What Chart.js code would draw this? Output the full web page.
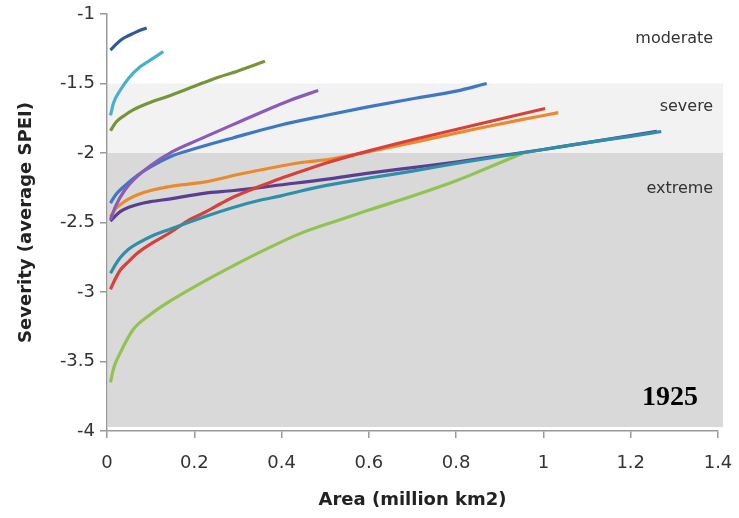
<!DOCTYPE html>
<html lang="en">
<head>
<meta charset="UTF-8">
<title>Severity vs Area 1925</title>
<script src="https://cdn.jsdelivr.net/npm/chart.js"></script>
<style>
    body { margin: 0; background: #fff; }
    #wrap { width: 739px; height: 518px; }
</style>
</head>
<body>
<div id="wrap"><canvas id="chart" width="739" height="518"></canvas></div>
<script>
// tick labels
const xTicks = ['0', '0.2', '0.4', '0.6', '0.8', '1', '1.2', '1.4'];
const yTicks = ['-4', '-3.5', '-3', '-2.5', '-2', '-1.5', '-1'];

// curves: [area, severity]
const navyCurve = [[0.008,-1.26],[0.02,-1.22],[0.035,-1.18],[0.05,-1.155],[0.07,-1.125],[0.091,-1.10]];
const cyanCurve = [[0.008,-1.73],[0.015,-1.64],[0.03,-1.55],[0.05,-1.46],[0.076,-1.38],[0.1,-1.33],[0.129,-1.27]];
const oliveCurve = [[0.008,-1.84],[0.02,-1.78],[0.04,-1.73],[0.06,-1.69],[0.1,-1.635],[0.137,-1.595],[0.2,-1.52],[0.25,-1.46],[0.3,-1.41],[0.362,-1.34]];
const purpleCurve = [[0.008,-2.48],[0.02,-2.38],[0.04,-2.27],[0.062,-2.19],[0.1,-2.09],[0.15,-1.99],[0.213,-1.90],[0.3,-1.78],[0.366,-1.69],[0.42,-1.62],[0.484,-1.55]];
const blueCurve = [[0.008,-2.36],[0.02,-2.30],[0.039,-2.24],[0.07,-2.16],[0.1,-2.10],[0.15,-2.02],[0.2,-1.97],[0.29,-1.89],[0.396,-1.80],[0.5,-1.73],[0.595,-1.67],[0.7,-1.61],[0.8,-1.555],[0.87,-1.50]];
const redCurve = [[0.008,-2.98],[0.02,-2.90],[0.031,-2.84],[0.05,-2.78],[0.07,-2.72],[0.108,-2.64],[0.146,-2.57],[0.184,-2.49],[0.222,-2.43],[0.26,-2.365],[0.291,-2.315],[0.35,-2.24],[0.396,-2.185],[0.442,-2.135],[0.51,-2.065],[0.6,-1.985],[0.7,-1.905],[0.855,-1.79],[1.004,-1.68]];
const orangeCurve = [[0.008,-2.46],[0.02,-2.40],[0.031,-2.37],[0.05,-2.33],[0.07,-2.30],[0.1,-2.27],[0.146,-2.24],[0.222,-2.21],[0.3,-2.155],[0.396,-2.095],[0.442,-2.07],[0.51,-2.045],[0.6,-1.99],[0.7,-1.925],[0.855,-1.82],[0.95,-1.76],[1.034,-1.71]];
const indigoCurve = [[0.008,-2.49],[0.02,-2.45],[0.031,-2.42],[0.05,-2.39],[0.07,-2.37],[0.1,-2.35],[0.146,-2.33],[0.222,-2.29],[0.291,-2.27],[0.396,-2.23],[0.5,-2.19],[0.6,-2.145],[0.7,-2.105],[0.8,-2.065],[0.9,-2.02],[1.0,-1.975],[1.1,-1.925],[1.2,-1.875],[1.26,-1.845]];
const tealCurve = [[0.008,-2.865],[0.02,-2.80],[0.031,-2.75],[0.05,-2.69],[0.07,-2.65],[0.108,-2.59],[0.138,-2.555],[0.222,-2.46],[0.291,-2.39],[0.35,-2.34],[0.396,-2.31],[0.442,-2.275],[0.5,-2.235],[0.6,-2.18],[0.7,-2.13],[0.8,-2.075],[0.9,-2.025],[1.0,-1.975],[1.1,-1.925],[1.2,-1.88],[1.27,-1.845]];
const limeCurve = [[0.008,-3.65],[0.015,-3.55],[0.03,-3.44],[0.06,-3.27],[0.1,-3.16],[0.137,-3.08],[0.213,-2.94],[0.29,-2.81],[0.366,-2.69],[0.442,-2.58],[0.534,-2.48],[0.6,-2.41],[0.7,-2.31],[0.8,-2.20],[0.855,-2.13],[0.954,-2.00]];

// severity classes (band limits on the y axis)
const bands = [
    { label: 'moderate', from: -1.5, to: -1 },
    { label: 'severe', from: -2, to: -1.5 },
    { label: 'extreme', from: -4, to: -2 }
];

const curves = [
    { data: navyCurve, color: '#2f5a93' },
    { data: cyanCurve, color: '#46b1cf' },
    { data: oliveCurve, color: '#76953a' },
    { data: purpleCurve, color: '#8a5cb8' },
    { data: blueCurve, color: '#3f78c2' },
    { data: tealCurve, color: '#2f8fa8' },
    { data: redCurve, color: '#d8413a' },
    { data: orangeCurve, color: '#ea8a2e' },
    { data: indigoCurve, color: '#5a3e91' },
    { data: limeCurve, color: '#92c350' }
];

const bandPlugin = {
    id: 'bands',
    beforeDatasetsDraw(chart) {
        const { ctx, chartArea, scales: { x, y } } = chart;
        const left = x.getPixelForValue(0) + 1;
        const right = chartArea.right + 5;
        ctx.save();
        ctx.fillStyle = '#f2f2f2';
        ctx.fillRect(left, y.getPixelForValue(bands[1].to), right - left, y.getPixelForValue(bands[1].from) - y.getPixelForValue(bands[1].to));
        ctx.fillStyle = '#d9d9d9';
        const top = y.getPixelForValue(bands[2].to);
        ctx.fillRect(left, top, right - left, chartArea.bottom - 4 - top);
        ctx.restore();
    },
    afterDatasetsDraw(chart) {
        const { ctx, scales: { x, y } } = chart;
        ctx.save();
        ctx.fillStyle = '#333';
        ctx.font = '16px "DejaVu Sans"';
        ctx.textAlign = 'right';
        ctx.textBaseline = 'middle';
        ctx.fillText(bands[0].label, x.getPixelForValue(1.389), y.getPixelForValue(-1.18));
        ctx.fillText(bands[1].label, x.getPixelForValue(1.389), y.getPixelForValue(-1.67));
        ctx.fillText(bands[2].label, x.getPixelForValue(1.389), y.getPixelForValue(-2.26));
        ctx.fillStyle = '#000';
        ctx.font = 'bold 28px "Liberation Serif"';
        ctx.fillText('1925', x.getPixelForValue(1.354), y.getPixelForValue(-3.76));
        ctx.restore();
    }
};

const tickFont = { family: 'DejaVu Sans', size: 18, lineHeight: 1.2 };
const titleFont = { family: 'DejaVu Sans', size: 18, weight: 'bold', lineHeight: 1.2 };

new Chart(document.getElementById('chart'), {
    type: 'scatter',
    data: {
        datasets: curves.map(c => ({
            data: c.data.map(p => ({ x: p[0], y: p[1] })),
            showLine: true,
            borderColor: c.color,
            backgroundColor: c.color,
            borderWidth: 3.2,
            pointRadius: 0,
            cubicInterpolationMode: 'monotone',
            fill: false
        }))
    },
    options: {
        responsive: false,
        animation: false,
        layout: { padding: { top: 14, right: 21, left: 0, bottom: 0 } },
        plugins: { legend: { display: false }, tooltip: { enabled: false } },
        scales: {
            x: {
                type: 'linear',
                min: 0,
                max: 1.4,
                afterFit: s => { s.height = 87; s.paddingLeft = 0; s.paddingRight = 0; },
                afterBuildTicks: s => { s.ticks = xTicks.map(t => ({ value: parseFloat(t) })); },
                ticks: {
                    callback: (v, i) => xTicks[i],
                    font: tickFont,
                    color: '#333',
                    padding: 15,
                    maxRotation: 0
                },
                grid: { drawOnChartArea: false, tickLength: 7, color: '#999', lineWidth: 1.5 },
                border: { color: '#999', width: 1.5 },
                title: {
                    display: true,
                    text: 'Area (million km2)',
                    font: titleFont,
                    color: '#222',
                    padding: { top: 0, bottom: 7 }
                }
            },
            y: {
                type: 'linear',
                min: -4,
                max: -1,
                afterFit: s => { s.width = 107; s.paddingTop = 0; s.paddingBottom = 0; },
                afterBuildTicks: s => { s.ticks = yTicks.map(t => ({ value: parseFloat(t) })); },
                ticks: {
                    callback: (v, i) => yTicks[i],
                    font: tickFont,
                    color: '#333',
                    padding: 5
                },
                grid: { drawOnChartArea: false, tickLength: 7, color: '#999', lineWidth: 1.5 },
                border: { color: '#999', width: 1.5 },
                title: {
                    display: true,
                    text: 'Severity (average SPEI)',
                    font: titleFont,
                    color: '#222',
                    padding: { top: 16, bottom: 0 }
                }
            }
        }
    },
    plugins: [bandPlugin]
});
</script>
</body>
</html>
